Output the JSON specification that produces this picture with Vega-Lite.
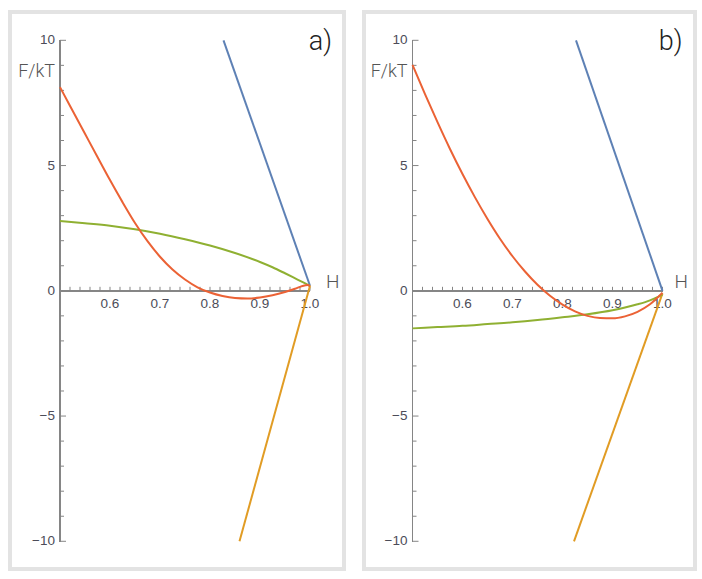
{
  "$schema": "https://vega.github.io/schema/vega-lite/v6.json",
  "padding": {"left": 8, "top": 10, "right": 0, "bottom": 0},
  "background": "white",
  "config": {
    "view": {"stroke": "#e3e3e3", "strokeWidth": 4},
    "text": {"font": "Liberation Sans"},
    "concat": {"spacing": 16}
  },
  "datasets": {
    "curves_a": [
      {"s": "blue", "H": 0.827, "F": 10.0},
      {"s": "blue", "H": 1.0, "F": 0.2},
      {"s": "orange", "H": 0.859, "F": -10.0},
      {"s": "orange", "H": 1.0, "F": 0.2},
      {"s": "green", "H": 0.5, "F": 2.79},
      {"s": "green", "H": 0.55, "F": 2.7},
      {"s": "green", "H": 0.6, "F": 2.6},
      {"s": "green", "H": 0.65, "F": 2.46},
      {"s": "green", "H": 0.7, "F": 2.28},
      {"s": "green", "H": 0.75, "F": 2.06},
      {"s": "green", "H": 0.8, "F": 1.81},
      {"s": "green", "H": 0.85, "F": 1.51},
      {"s": "green", "H": 0.9, "F": 1.15},
      {"s": "green", "H": 0.925, "F": 0.94},
      {"s": "green", "H": 0.95, "F": 0.7},
      {"s": "green", "H": 0.975, "F": 0.45},
      {"s": "green", "H": 1.0, "F": 0.2},
      {"s": "red", "H": 0.5, "F": 8.13},
      {"s": "red", "H": 0.525, "F": 7.2},
      {"s": "red", "H": 0.55, "F": 6.27},
      {"s": "red", "H": 0.575, "F": 5.34},
      {"s": "red", "H": 0.6, "F": 4.42},
      {"s": "red", "H": 0.625, "F": 3.54},
      {"s": "red", "H": 0.65, "F": 2.71},
      {"s": "red", "H": 0.675, "F": 1.98},
      {"s": "red", "H": 0.7, "F": 1.36},
      {"s": "red", "H": 0.725, "F": 0.85},
      {"s": "red", "H": 0.75, "F": 0.45},
      {"s": "red", "H": 0.775, "F": 0.14},
      {"s": "red", "H": 0.8, "F": -0.07},
      {"s": "red", "H": 0.825, "F": -0.21},
      {"s": "red", "H": 0.85, "F": -0.29},
      {"s": "red", "H": 0.875, "F": -0.31},
      {"s": "red", "H": 0.9, "F": -0.27},
      {"s": "red", "H": 0.925, "F": -0.18},
      {"s": "red", "H": 0.95, "F": -0.05},
      {"s": "red", "H": 0.97, "F": 0.08},
      {"s": "red", "H": 0.985, "F": 0.19},
      {"s": "red", "H": 0.995, "F": 0.23},
      {"s": "red", "H": 1.0, "F": 0.18}
    ],
    "curves_b": [
      {"s": "blue", "H": 0.827, "F": 10.0},
      {"s": "blue", "H": 1.0, "F": 0.0},
      {"s": "orange", "H": 0.823, "F": -10.0},
      {"s": "orange", "H": 1.0, "F": -0.1},
      {"s": "green", "H": 0.5, "F": -1.5},
      {"s": "green", "H": 0.55, "F": -1.45},
      {"s": "green", "H": 0.6, "F": -1.4},
      {"s": "green", "H": 0.65, "F": -1.33},
      {"s": "green", "H": 0.7, "F": -1.26},
      {"s": "green", "H": 0.75, "F": -1.17},
      {"s": "green", "H": 0.8, "F": -1.06},
      {"s": "green", "H": 0.85, "F": -0.94},
      {"s": "green", "H": 0.9, "F": -0.78},
      {"s": "green", "H": 0.925, "F": -0.67},
      {"s": "green", "H": 0.95, "F": -0.54},
      {"s": "green", "H": 0.975, "F": -0.38},
      {"s": "green", "H": 1.0, "F": -0.15},
      {"s": "red", "H": 0.5, "F": 9.02},
      {"s": "red", "H": 0.525, "F": 7.85},
      {"s": "red", "H": 0.55, "F": 6.73},
      {"s": "red", "H": 0.575, "F": 5.66},
      {"s": "red", "H": 0.6, "F": 4.66},
      {"s": "red", "H": 0.625, "F": 3.73},
      {"s": "red", "H": 0.65, "F": 2.87},
      {"s": "red", "H": 0.675, "F": 2.08},
      {"s": "red", "H": 0.7, "F": 1.38},
      {"s": "red", "H": 0.725, "F": 0.77},
      {"s": "red", "H": 0.75, "F": 0.24},
      {"s": "red", "H": 0.775, "F": -0.2},
      {"s": "red", "H": 0.8, "F": -0.55},
      {"s": "red", "H": 0.825, "F": -0.82},
      {"s": "red", "H": 0.85, "F": -1.0},
      {"s": "red", "H": 0.875, "F": -1.09},
      {"s": "red", "H": 0.9, "F": -1.1},
      {"s": "red", "H": 0.925, "F": -1.02},
      {"s": "red", "H": 0.95, "F": -0.84},
      {"s": "red", "H": 0.975, "F": -0.54},
      {"s": "red", "H": 1.0, "F": -0.08}
    ],
    "xticks": [
      {"v": 0.52, "major": false}, {"v": 0.54, "major": false}, {"v": 0.56, "major": false}, {"v": 0.58, "major": false},
      {"v": 0.6, "major": true},
      {"v": 0.62, "major": false}, {"v": 0.64, "major": false}, {"v": 0.66, "major": false}, {"v": 0.68, "major": false},
      {"v": 0.7, "major": true},
      {"v": 0.72, "major": false}, {"v": 0.74, "major": false}, {"v": 0.76, "major": false}, {"v": 0.78, "major": false},
      {"v": 0.8, "major": true},
      {"v": 0.82, "major": false}, {"v": 0.84, "major": false}, {"v": 0.86, "major": false}, {"v": 0.88, "major": false},
      {"v": 0.9, "major": true},
      {"v": 0.92, "major": false}, {"v": 0.94, "major": false}, {"v": 0.96, "major": false}, {"v": 0.98, "major": false},
      {"v": 1.0, "major": true}
    ],
    "yticks": [
      {"v": -10, "major": true}, {"v": -9, "major": false}, {"v": -8, "major": false}, {"v": -7, "major": false}, {"v": -6, "major": false},
      {"v": -5, "major": true}, {"v": -4, "major": false}, {"v": -3, "major": false}, {"v": -2, "major": false}, {"v": -1, "major": false},
      {"v": 1, "major": false}, {"v": 2, "major": false}, {"v": 3, "major": false}, {"v": 4, "major": false},
      {"v": 5, "major": true}, {"v": 6, "major": false}, {"v": 7, "major": false}, {"v": 8, "major": false}, {"v": 9, "major": false},
      {"v": 10, "major": true}
    ],
    "xlabels": [
      {"v": 0.6, "t": "0.6"}, {"v": 0.7, "t": "0.7"}, {"v": 0.8, "t": "0.8"}, {"v": 0.9, "t": "0.9"}, {"v": 1.0, "t": "1.0"}
    ],
    "ylabels": [
      {"v": -10, "t": "−10"}, {"v": -5, "t": "−5"}, {"v": 0, "t": "0"}, {"v": 5, "t": "5"}, {"v": 10, "t": "10"}
    ]
  },
  "hconcat": [
    {
      "width": 334,
      "height": 557,
      "layer": [
        {
          "data": {"name": "curves_a"},
          "mark": {"type": "rule", "color": "#858585", "strokeWidth": 1},
          "encoding": {
            "x": {"datum": 0.5, "type": "quantitative", "scale": {"domain": [0.4, 1.068], "nice": false, "zero": false}, "axis": null},
            "y": {"datum": -10, "type": "quantitative", "scale": {"domain": [-11.106, 11.13], "nice": false, "zero": false}, "axis": null},
            "y2": {"datum": 10}
          }
        },
        {
          "data": {"name": "curves_a"},
          "mark": {"type": "rule", "color": "#858585", "strokeWidth": 1},
          "encoding": {
            "x": {"datum": 0.5, "type": "quantitative", "scale": {"domain": [0.4, 1.068], "nice": false, "zero": false}, "axis": null},
            "x2": {"datum": 1.0},
            "y": {"datum": 0, "type": "quantitative", "scale": {"domain": [-11.106, 11.13], "nice": false, "zero": false}, "axis": null}
          }
        },
        {
          "data": {"name": "xticks"},
          "mark": {"type": "rule", "color": "#858585", "strokeWidth": 1, "y2Offset": -4},
          "encoding": {
            "x": {"field": "v", "type": "quantitative", "scale": {"domain": [0.4, 1.068], "nice": false, "zero": false}, "axis": null},
            "y": {"datum": 0, "type": "quantitative", "scale": {"domain": [-11.106, 11.13], "nice": false, "zero": false}, "axis": null},
            "y2": {"datum": 0}
          }
        },
        {
          "data": {"name": "yticks"},
          "transform": [{"filter": "!datum.major"}],
          "mark": {"type": "rule", "color": "#858585", "strokeWidth": 1, "x2Offset": 4},
          "encoding": {
            "x": {"datum": 0.5, "type": "quantitative", "scale": {"domain": [0.4, 1.068], "nice": false, "zero": false}, "axis": null},
            "x2": {"datum": 0.5},
            "y": {"field": "v", "type": "quantitative", "scale": {"domain": [-11.106, 11.13], "nice": false, "zero": false}, "axis": null}
          }
        },
        {
          "data": {"name": "yticks"},
          "transform": [{"filter": "datum.major"}],
          "mark": {"type": "rule", "color": "#858585", "strokeWidth": 1, "x2Offset": 6},
          "encoding": {
            "x": {"datum": 0.5, "type": "quantitative", "scale": {"domain": [0.4, 1.068], "nice": false, "zero": false}, "axis": null},
            "x2": {"datum": 0.5},
            "y": {"field": "v", "type": "quantitative", "scale": {"domain": [-11.106, 11.13], "nice": false, "zero": false}, "axis": null}
          }
        },
        {
          "data": {"name": "xlabels"},
          "mark": {"type": "text", "fontSize": 13.5, "color": "#4c4c58", "baseline": "middle", "align": "center", "dy": 13},
          "encoding": {
            "x": {"field": "v", "type": "quantitative", "scale": {"domain": [0.4, 1.068], "nice": false, "zero": false}, "axis": null},
            "y": {"datum": 0, "type": "quantitative", "scale": {"domain": [-11.106, 11.13], "nice": false, "zero": false}, "axis": null},
            "text": {"field": "t"}
          }
        },
        {
          "data": {"name": "ylabels"},
          "mark": {"type": "text", "fontSize": 13.5, "color": "#4c4c58", "baseline": "middle", "align": "right", "dx": -5},
          "encoding": {
            "x": {"datum": 0.5, "type": "quantitative", "scale": {"domain": [0.4, 1.068], "nice": false, "zero": false}, "axis": null},
            "y": {"field": "v", "type": "quantitative", "scale": {"domain": [-11.106, 11.13], "nice": false, "zero": false}, "axis": null},
            "text": {"field": "t"}
          }
        },
        {
          "data": {"name": "curves_a"},
          "mark": {"type": "line", "strokeWidth": 2, "interpolate": "monotone"},
          "encoding": {
            "x": {"field": "H", "type": "quantitative", "scale": {"domain": [0.4, 1.068], "nice": false, "zero": false}, "axis": null},
            "y": {"field": "F", "type": "quantitative", "scale": {"domain": [-11.106, 11.13], "nice": false, "zero": false}, "axis": null},
            "color": {"field": "s", "type": "nominal", "scale": {"domain": ["blue", "orange", "green", "red"], "range": ["#5E81B5", "#E19C24", "#8FB032", "#EB6235"]}, "legend": null}
          }
        },
        {
          "data": {"values": [{"t": "F/kT"}]},
          "mark": {"type": "text", "fontSize": 18, "color": "#555", "baseline": "middle", "align": "right", "dx": -5, "font": "Roboto", "fontWeight": 300},
          "encoding": {
            "x": {"datum": 0.5, "type": "quantitative", "scale": {"domain": [0.4, 1.068], "nice": false, "zero": false}, "axis": null},
            "y": {"datum": 8.73, "type": "quantitative", "scale": {"domain": [-11.106, 11.13], "nice": false, "zero": false}, "axis": null},
            "text": {"field": "t"}
          }
        },
        {
          "data": {"values": [{"t": "H"}]},
          "mark": {"type": "text", "fontSize": 19, "color": "#555", "baseline": "middle", "align": "left", "font": "Roboto", "fontWeight": 300},
          "encoding": {
            "x": {"datum": 1.032, "type": "quantitative", "scale": {"domain": [0.4, 1.068], "nice": false, "zero": false}, "axis": null},
            "y": {"datum": 0.35, "type": "quantitative", "scale": {"domain": [-11.106, 11.13], "nice": false, "zero": false}, "axis": null},
            "text": {"field": "t"}
          }
        },
        {
          "data": {"values": [{"t": "a)"}]},
          "mark": {"type": "text", "fontSize": 27, "color": "#222", "baseline": "middle", "align": "right", "font": "Roboto", "fontWeight": 300},
          "encoding": {
            "x": {"datum": 1.044, "type": "quantitative", "scale": {"domain": [0.4, 1.068], "nice": false, "zero": false}, "axis": null},
            "y": {"datum": 9.93, "type": "quantitative", "scale": {"domain": [-11.106, 11.13], "nice": false, "zero": false}, "axis": null},
            "text": {"field": "t"}
          }
        }
      ]
    },
    {
      "width": 331,
      "height": 557,
      "layer": [
        {
          "data": {"name": "curves_b"},
          "mark": {"type": "rule", "color": "#858585", "strokeWidth": 1},
          "encoding": {
            "x": {"datum": 0.5, "type": "quantitative", "scale": {"domain": [0.403, 1.065], "nice": false, "zero": false}, "axis": null},
            "y": {"datum": -10, "type": "quantitative", "scale": {"domain": [-11.106, 11.13], "nice": false, "zero": false}, "axis": null},
            "y2": {"datum": 10}
          }
        },
        {
          "data": {"name": "curves_b"},
          "mark": {"type": "rule", "color": "#858585", "strokeWidth": 1},
          "encoding": {
            "x": {"datum": 0.5, "type": "quantitative", "scale": {"domain": [0.403, 1.065], "nice": false, "zero": false}, "axis": null},
            "x2": {"datum": 1.0},
            "y": {"datum": 0, "type": "quantitative", "scale": {"domain": [-11.106, 11.13], "nice": false, "zero": false}, "axis": null}
          }
        },
        {
          "data": {"name": "xticks"},
          "mark": {"type": "rule", "color": "#858585", "strokeWidth": 1, "y2Offset": -4},
          "encoding": {
            "x": {"field": "v", "type": "quantitative", "scale": {"domain": [0.403, 1.065], "nice": false, "zero": false}, "axis": null},
            "y": {"datum": 0, "type": "quantitative", "scale": {"domain": [-11.106, 11.13], "nice": false, "zero": false}, "axis": null},
            "y2": {"datum": 0}
          }
        },
        {
          "data": {"name": "yticks"},
          "transform": [{"filter": "!datum.major"}],
          "mark": {"type": "rule", "color": "#858585", "strokeWidth": 1, "x2Offset": 4},
          "encoding": {
            "x": {"datum": 0.5, "type": "quantitative", "scale": {"domain": [0.403, 1.065], "nice": false, "zero": false}, "axis": null},
            "x2": {"datum": 0.5},
            "y": {"field": "v", "type": "quantitative", "scale": {"domain": [-11.106, 11.13], "nice": false, "zero": false}, "axis": null}
          }
        },
        {
          "data": {"name": "yticks"},
          "transform": [{"filter": "datum.major"}],
          "mark": {"type": "rule", "color": "#858585", "strokeWidth": 1, "x2Offset": 6},
          "encoding": {
            "x": {"datum": 0.5, "type": "quantitative", "scale": {"domain": [0.403, 1.065], "nice": false, "zero": false}, "axis": null},
            "x2": {"datum": 0.5},
            "y": {"field": "v", "type": "quantitative", "scale": {"domain": [-11.106, 11.13], "nice": false, "zero": false}, "axis": null}
          }
        },
        {
          "data": {"name": "xlabels"},
          "mark": {"type": "text", "fontSize": 13.5, "color": "#4c4c58", "baseline": "middle", "align": "center", "dy": 13},
          "encoding": {
            "x": {"field": "v", "type": "quantitative", "scale": {"domain": [0.403, 1.065], "nice": false, "zero": false}, "axis": null},
            "y": {"datum": 0, "type": "quantitative", "scale": {"domain": [-11.106, 11.13], "nice": false, "zero": false}, "axis": null},
            "text": {"field": "t"}
          }
        },
        {
          "data": {"name": "ylabels"},
          "mark": {"type": "text", "fontSize": 13.5, "color": "#4c4c58", "baseline": "middle", "align": "right", "dx": -5},
          "encoding": {
            "x": {"datum": 0.5, "type": "quantitative", "scale": {"domain": [0.403, 1.065], "nice": false, "zero": false}, "axis": null},
            "y": {"field": "v", "type": "quantitative", "scale": {"domain": [-11.106, 11.13], "nice": false, "zero": false}, "axis": null},
            "text": {"field": "t"}
          }
        },
        {
          "data": {"name": "curves_b"},
          "mark": {"type": "line", "strokeWidth": 2, "interpolate": "monotone"},
          "encoding": {
            "x": {"field": "H", "type": "quantitative", "scale": {"domain": [0.403, 1.065], "nice": false, "zero": false}, "axis": null},
            "y": {"field": "F", "type": "quantitative", "scale": {"domain": [-11.106, 11.13], "nice": false, "zero": false}, "axis": null},
            "color": {"field": "s", "type": "nominal", "scale": {"domain": ["blue", "orange", "green", "red"], "range": ["#5E81B5", "#E19C24", "#8FB032", "#EB6235"]}, "legend": null}
          }
        },
        {
          "data": {"values": [{"t": "F/kT"}]},
          "mark": {"type": "text", "fontSize": 18, "color": "#555", "baseline": "middle", "align": "right", "dx": -5, "font": "Roboto", "fontWeight": 300},
          "encoding": {
            "x": {"datum": 0.5, "type": "quantitative", "scale": {"domain": [0.403, 1.065], "nice": false, "zero": false}, "axis": null},
            "y": {"datum": 8.73, "type": "quantitative", "scale": {"domain": [-11.106, 11.13], "nice": false, "zero": false}, "axis": null},
            "text": {"field": "t"}
          }
        },
        {
          "data": {"values": [{"t": "H"}]},
          "mark": {"type": "text", "fontSize": 19, "color": "#555", "baseline": "middle", "align": "left", "font": "Roboto", "fontWeight": 300},
          "encoding": {
            "x": {"datum": 1.024, "type": "quantitative", "scale": {"domain": [0.403, 1.065], "nice": false, "zero": false}, "axis": null},
            "y": {"datum": 0.35, "type": "quantitative", "scale": {"domain": [-11.106, 11.13], "nice": false, "zero": false}, "axis": null},
            "text": {"field": "t"}
          }
        },
        {
          "data": {"values": [{"t": "b)"}]},
          "mark": {"type": "text", "fontSize": 27, "color": "#222", "baseline": "middle", "align": "right", "font": "Roboto", "fontWeight": 300},
          "encoding": {
            "x": {"datum": 1.04, "type": "quantitative", "scale": {"domain": [0.403, 1.065], "nice": false, "zero": false}, "axis": null},
            "y": {"datum": 9.93, "type": "quantitative", "scale": {"domain": [-11.106, 11.13], "nice": false, "zero": false}, "axis": null},
            "text": {"field": "t"}
          }
        }
      ]
    }
  ]
}
